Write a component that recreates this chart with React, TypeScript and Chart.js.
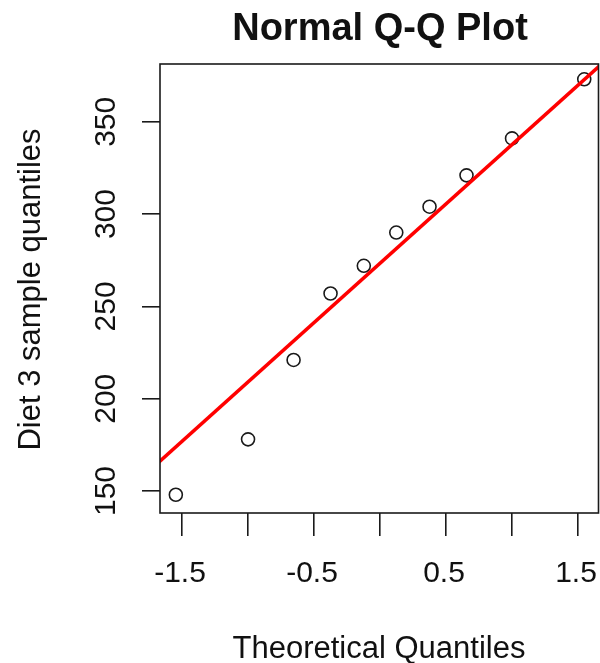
import React, { useEffect, useRef } from "react";
import { Chart, registerables } from "chart.js";

Chart.register(...registerables);

// ---- data ----
const theoreticalQuantiles = [-1.547, -1.0, -0.655, -0.375, -0.123, 0.123, 0.375, 0.655, 1.0, 1.547];
const sampleQuantiles = [148, 178, 221, 257, 272, 290, 304, 321, 341, 373];

const xTickValues = [-1.5, -1, -0.5, 0, 0.5, 1, 1.5];
const xTickLabels = ["-1.5", "", "-0.5", "", "0.5", "", "1.5"];
const yTickValues = [150, 200, 250, 300, 350];
const yTickLabels = ["150", "200", "250", "300", "350"];

const xLimits = [-1.667, 1.655];
const yLimits = [138.1, 381.3];

const titleText = "Normal Q-Q Plot";
const xAxisTitle = "Theoretical Quantiles";
const yAxisTitle = "Diet 3 sample quantiles";

const FONT = "'Liberation Sans', Arial, Helvetica, sans-serif";

// qqline: line through the 1st and 3rd quartiles (R quantile type 7)
function quantile7(values: number[], p: number): number {
  const s = [...values].sort((a, b) => a - b);
  const h = (s.length - 1) * p;
  const lo = Math.floor(h);
  const hi = Math.ceil(h);
  return s[lo] + (h - lo) * (s[hi] - s[lo]);
}

export default function App() {
  const canvasRef = useRef<HTMLCanvasElement | null>(null);

  useEffect(() => {
    const canvas = canvasRef.current;
    if (!canvas) return;

    const q1 = quantile7(sampleQuantiles, 0.25);
    const q3 = quantile7(sampleQuantiles, 0.75);
    const z = 0.6744897501960817;
    const slope = (q3 - q1) / (2 * z);
    const intercept = (q1 + q3) / 2;
    const lineX = [-3, 3];
    const linePoints = lineX.map((x) => ({ x, y: intercept + slope * x }));

    const points = theoreticalQuantiles.map((x, i) => ({ x, y: sampleQuantiles[i] }));

    const labelPlugin = {
      id: "rLabels",
      afterDraw(chart: any) {
        const { ctx, chartArea, scales } = chart;
        const xs = scales.x;
        const ys = scales.y;
        ctx.save();
        // box
        ctx.strokeStyle = "#1a1a1a";
        ctx.lineWidth = 1.6;
        ctx.strokeRect(chartArea.left, chartArea.top, chartArea.right - chartArea.left, chartArea.bottom - chartArea.top);

        ctx.fillStyle = "#111";
        // title
        ctx.font = `bold 38px ${FONT}`;
        ctx.textAlign = "center";
        ctx.textBaseline = "alphabetic";
        ctx.fillText(titleText, 380, 40);

        // x tick labels
        ctx.font = `30px ${FONT}`;
        xTickValues.forEach((v, i) => {
          const lab = xTickLabels[i];
          if (!lab) return;
          ctx.fillText(lab, xs.getPixelForValue(v) - 2, 582);
        });

        // x axis title
        ctx.font = `31px ${FONT}`;
        ctx.fillText(xAxisTitle, 379, 658);

        // y tick labels (rotated)
        ctx.font = `30px ${FONT}`;
        yTickValues.forEach((v, i) => {
          const py = ys.getPixelForValue(v);
          ctx.save();
          ctx.translate(115, py);
          ctx.rotate(-Math.PI / 2);
          ctx.fillText(yTickLabels[i], 0, 0);
          ctx.restore();
        });

        // y axis title
        ctx.font = `31px ${FONT}`;
        ctx.save();
        ctx.translate(40, (chartArea.top + chartArea.bottom) / 2 + 1);
        ctx.rotate(-Math.PI / 2);
        ctx.fillText(yAxisTitle, 0, 0);
        ctx.restore();

        ctx.restore();
      },
    };

    const chart = new Chart(canvas, {
      type: "scatter",
      data: {
        datasets: [
          {
            type: "line",
            label: "qqline",
            data: linePoints,
            borderColor: "#ff0000",
            borderWidth: 3.5,
            pointRadius: 0,
            fill: false,
            clip: 0,
            order: 0,
          } as any,
          {
            label: "sample",
            data: points,
            pointStyle: "circle",
            pointRadius: 6.5,
            pointBorderWidth: 1.6,
            borderColor: "#1a1a1a",
            backgroundColor: "rgba(0,0,0,0)",
            pointBackgroundColor: "rgba(0,0,0,0)",
            pointBorderColor: "#1a1a1a",
            order: 1,
          } as any,
        ],
      },
      options: {
        animation: false,
        responsive: false,
        events: [],
        layout: { autoPadding: false, padding: { top: 64, right: 1.5, left: 0, bottom: 0 } },
        plugins: {
          legend: { display: false },
          tooltip: { enabled: false },
          title: { display: false },
        },
        scales: {
          x: {
            type: "linear",
            position: "bottom",
            min: xLimits[0],
            max: xLimits[1],
            afterBuildTicks: (scale: any) => {
              scale.ticks = xTickValues.map((v) => ({ value: v }));
            },
            afterFit: (scale: any) => {
              scale.height = 150;
            },
            ticks: { display: false },
            border: { display: false },
            grid: {
              display: true,
              drawOnChartArea: false,
              drawTicks: true,
              tickLength: 23,
              color: "#1a1a1a",
              lineWidth: 1.6,
            },
          },
          y: {
            type: "linear",
            position: "left",
            min: yLimits[0],
            max: yLimits[1],
            afterBuildTicks: (scale: any) => {
              scale.ticks = yTickValues.map((v) => ({ value: v }));
            },
            afterFit: (scale: any) => {
              scale.width = 160;
            },
            ticks: { display: false },
            border: { display: false },
            grid: {
              display: true,
              drawOnChartArea: false,
              drawTicks: true,
              tickLength: 18,
              color: "#1a1a1a",
              lineWidth: 1.6,
            },
          },
        },
      } as any,
      plugins: [labelPlugin],
    });

    return () => {
      chart.destroy();
    };
  }, []);

  return (
    <div style={{ position: "absolute", left: 0, top: 0, width: 600, height: 663, background: "#fff" }}>
      <canvas ref={canvasRef} width={600} height={663} style={{ width: 600, height: 663, display: "block" }} />
    </div>
  );
}
